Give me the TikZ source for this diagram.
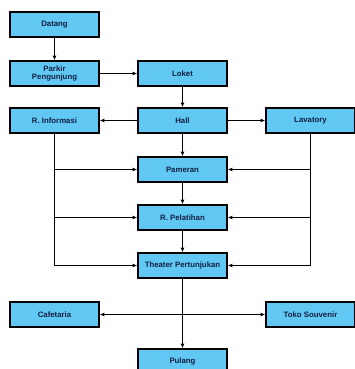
\documentclass[tikz,border=0pt]{standalone}
\usepackage{fontspec}
\setmainfont{Liberation Sans}
\usetikzlibrary{arrows.meta}

\definecolor{boxblue}{RGB}{96,200,242}
\definecolor{textnavy}{RGB}{18,30,66}

\tikzset{
  room/.style={draw=black, line width=1.6pt, fill=boxblue, text=textnavy,
    minimum width=89pt, minimum height=25pt, inner sep=1pt, align=center,
    font=\fontsize{7.8}{8.2}\selectfont\bfseries},
  flow/.style={line width=1.1pt, -{Latex[length=4.5pt,width=4pt]}},
  link/.style={line width=1.1pt}
}

\begin{document}
\begin{tikzpicture}[x=1pt, y=-1pt]
  \useasboundingbox (0,0) rectangle (355,369);

  % Left column
  \node[room] (datang) at (54.5,24.5) {Datang};
  \node[room] (parkir) at (54.5,73.5) {Parkir\\Pengunjung};
  \node[room] (info) at (54.5,120.5) {R. Informasi};
  \node[room] (cafe) at (54.5,314.5) {Cafetaria};

  % Middle column
  \node[room] (loket) at (182.5,73.5) {Loket};
  \node[room] (hall) at (182.5,120.5) {Hall};
  \node[room] (pameran) at (182.5,169.5) {Pameran};
  \node[room] (pelatihan) at (182.5,217.5) {R. Pelatihan};
  \node[room] (theater) at (182.5,265.5) {Theater Pertunjukan};
  \node[room] (pulang) at (182.5,361.5) {Pulang};

  % Right column
  \node[room] (lavatory) at (310.5,120.5) {Lavatory};
  \node[room] (toko) at (310.5,314.5) {Toko Souvenir};

  % Main route
  \draw[flow] (datang) -- (parkir);
  \draw[flow] (parkir) -- (loket);
  \draw[flow] (loket) -- (hall);
  \draw[flow] (hall) -- (info);
  \draw[flow] (hall) -- (lavatory);
  \draw[flow] (hall) -- (pameran);
  \draw[flow] (pameran) -- (pelatihan);
  \draw[flow] (pelatihan) -- (theater);
  \draw[flow] (theater) -- (pulang);

  % Branches from R. Informasi
  \draw[flow] (info.south) |- (theater.west);
  \draw[flow] (info.south |- pameran.west) -- (pameran.west);
  \draw[flow] (info.south |- pelatihan.west) -- (pelatihan.west);

  % Branches from Lavatory
  \draw[flow] (lavatory.south) |- (theater.east);
  \draw[flow] (lavatory.south |- pameran.east) -- (pameran.east);
  \draw[flow] (lavatory.south |- pelatihan.east) -- (pelatihan.east);

  % Cafetaria and Toko Souvenir
  \draw[flow, {Latex[length=4.5pt,width=4pt]}-{Latex[length=4.5pt,width=4pt]}] (cafe) -- (toko);

\end{tikzpicture}
\end{document}
